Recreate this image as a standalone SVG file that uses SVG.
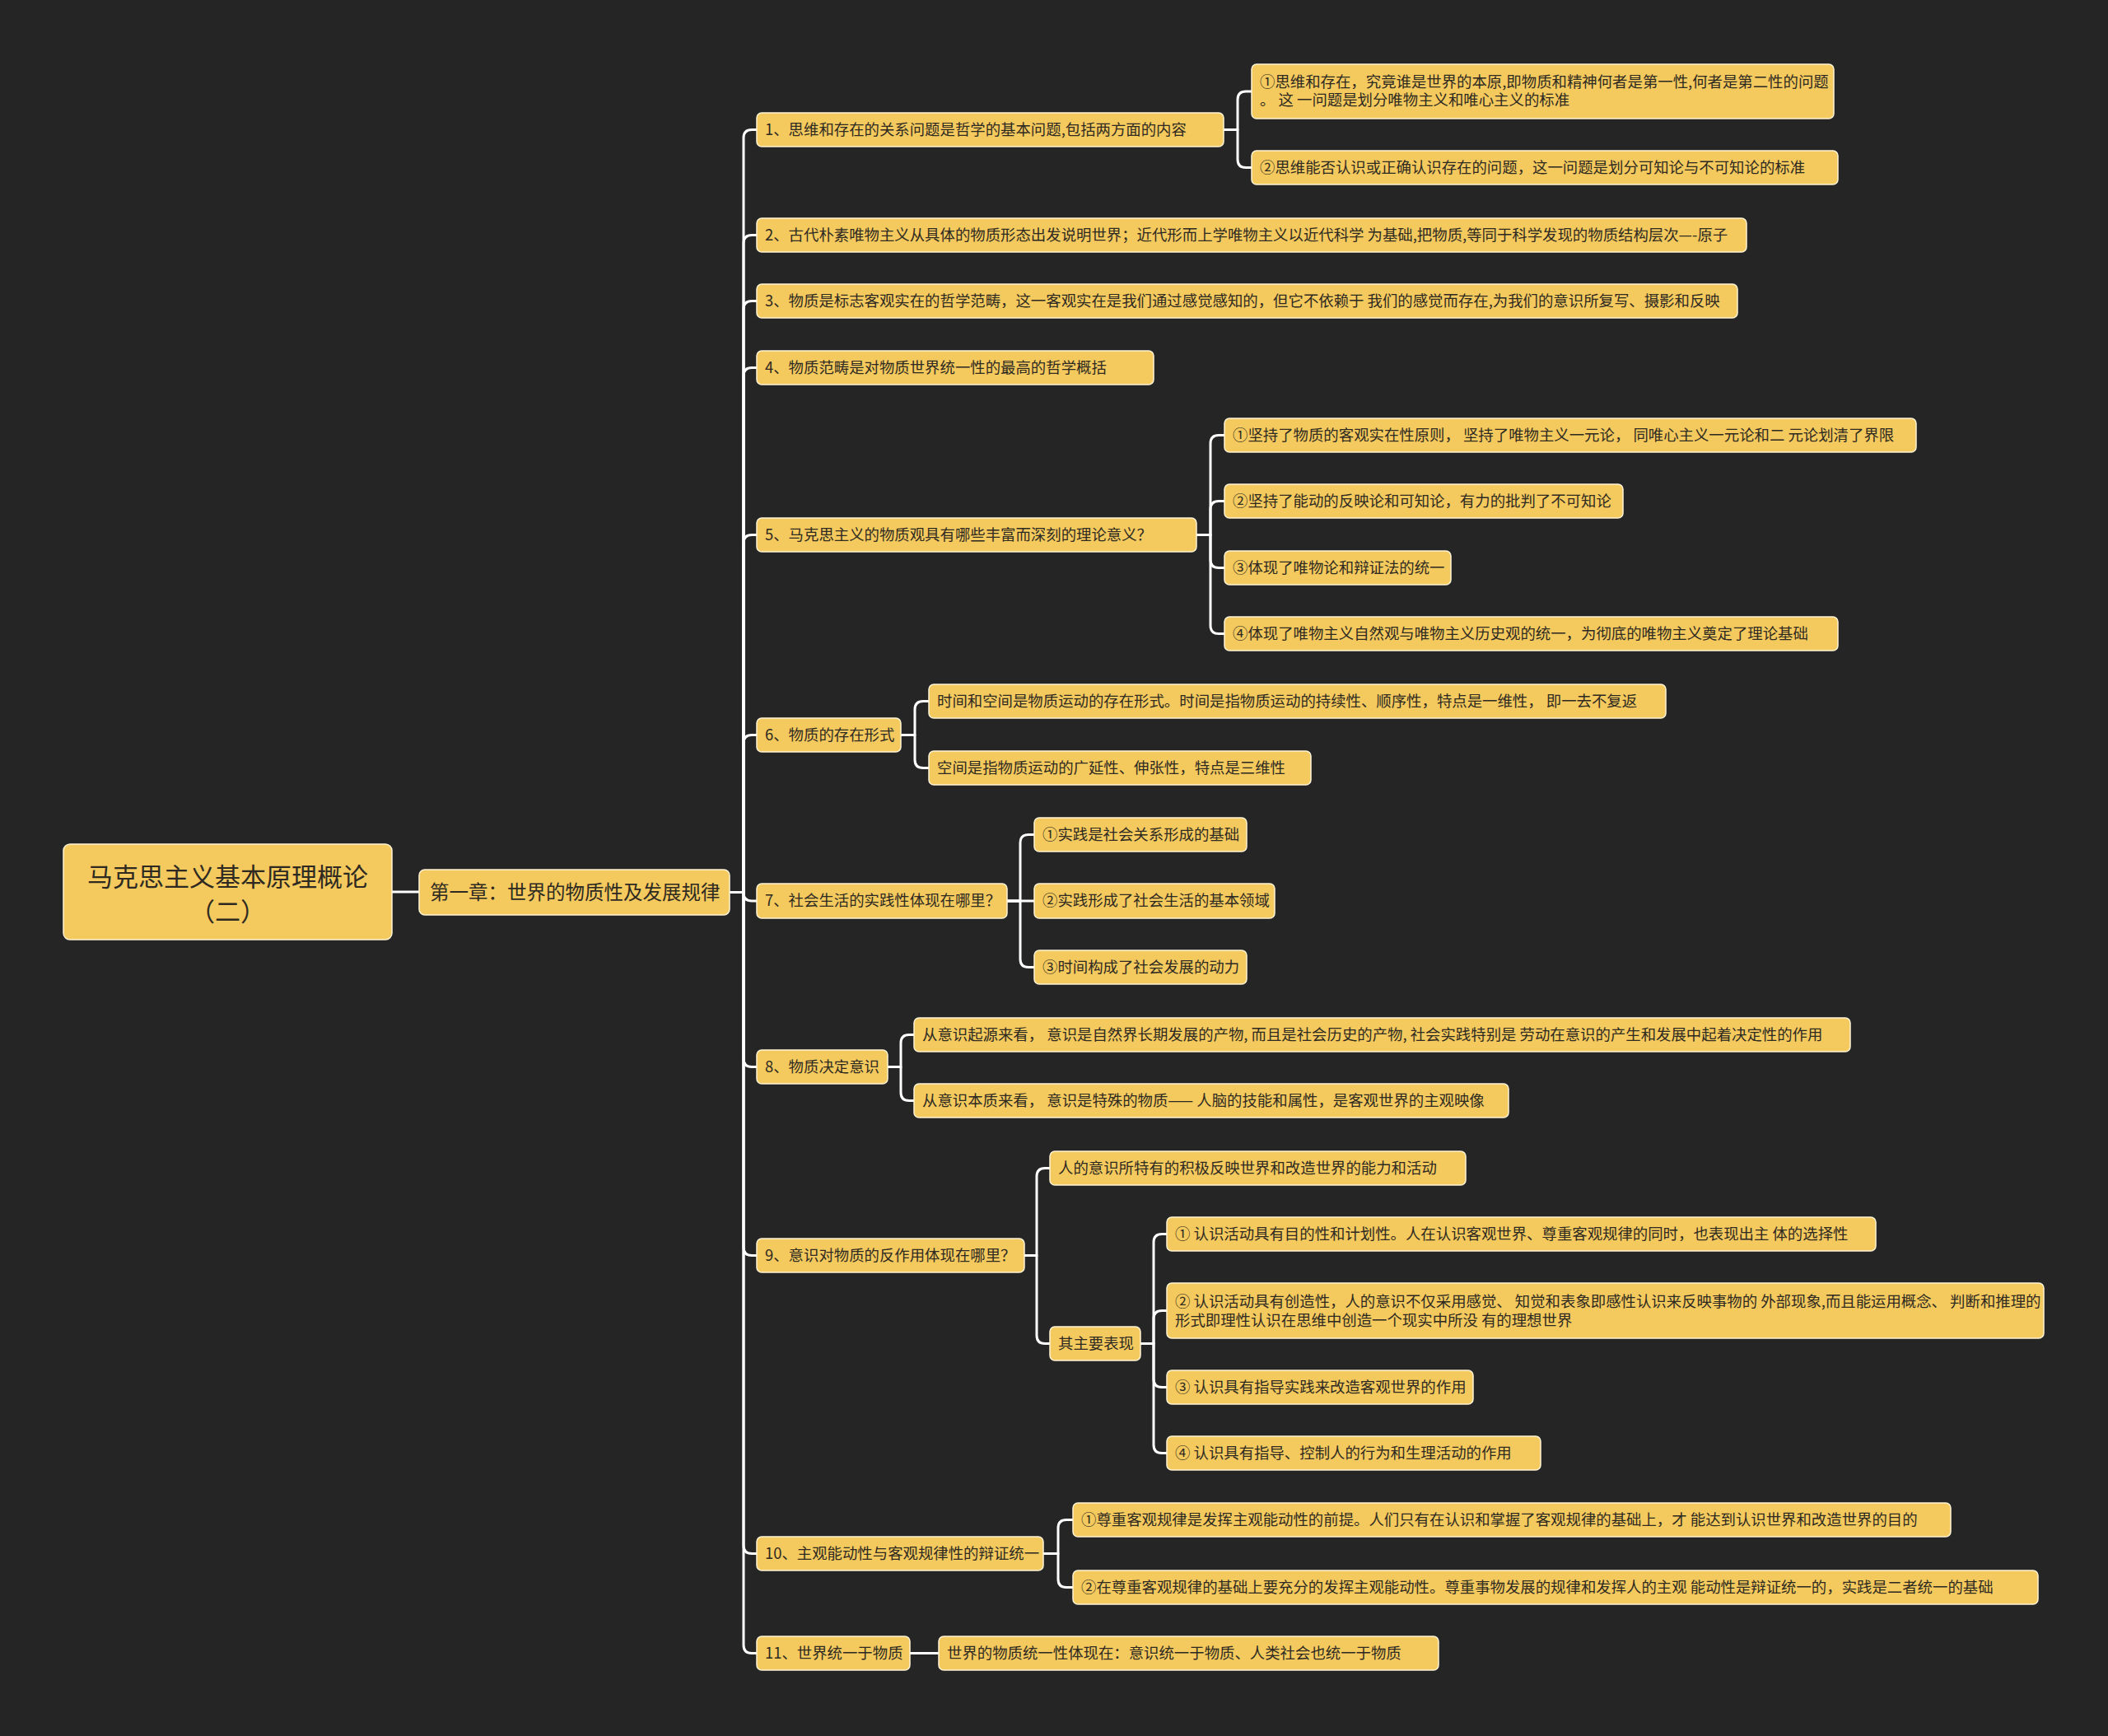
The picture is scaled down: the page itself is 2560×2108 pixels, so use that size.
<svg xmlns="http://www.w3.org/2000/svg" width="2560" height="2108" viewBox="0 0 2560 2108">
<style>
.node rect{fill:#F4C95D;stroke:#FFF4D6;stroke-width:1.5}
text{font-family:'Noto Sans CJK SC','Noto Sans',sans-serif;fill:#2E2A22}
.t{font-size:18.4px}
.conn path{fill:none;stroke:#FFFFFF;stroke-width:3;stroke-linecap:round;stroke-linejoin:round}
</style>
<rect width="2560" height="2108" fill="#252525"/>
<g id="connectors" class="conn">
<path d="M476 1083 H509"/>
<path d="M886 1083.5 H903 V167.5 Q903 157.5 913 157.5 H919"/>
<path d="M886 1083.5 H903 V295.5 Q903 285.5 913 285.5 H919"/>
<path d="M886 1083.5 H903 V375.5 Q903 365.5 913 365.5 H919"/>
<path d="M886 1083.5 H903 V456.5 Q903 446.5 913 446.5 H919"/>
<path d="M886 1083.5 H903 V659.5 Q903 649.5 913 649.5 H919"/>
<path d="M886 1083.5 H903 V902.5 Q903 892.5 913 892.5 H919"/>
<path d="M886 1083.5 H903 V1084 Q903 1094 913 1094 H919"/>
<path d="M886 1083.5 H903 V1285.5 Q903 1295.5 913 1295.5 H919"/>
<path d="M886 1083.5 H903 V1514.5 Q903 1524.5 913 1524.5 H919"/>
<path d="M886 1083.5 H903 V1876.5 Q903 1886.5 913 1886.5 H919"/>
<path d="M886 1083.5 H903 V1997.5 Q903 2007.5 913 2007.5 H919"/>
<path d="M1486 157.5 H1503 V121 Q1503 111 1513 111 H1520"/>
<path d="M1486 157.5 H1503 V193.5 Q1503 203.5 1513 203.5 H1520"/>
<path d="M1453 649.5 H1470 V538.5 Q1470 528.5 1480 528.5 H1487"/>
<path d="M1453 649.5 H1470 V618.5 Q1470 608.5 1480 608.5 H1487"/>
<path d="M1453 649.5 H1470 V679.5 Q1470 689.5 1480 689.5 H1487"/>
<path d="M1453 649.5 H1470 V759.5 Q1470 769.5 1480 769.5 H1487"/>
<path d="M1094 892.5 H1111 V861.5 Q1111 851.5 1121 851.5 H1128"/>
<path d="M1094 892.5 H1111 V922.5 Q1111 932.5 1121 932.5 H1128"/>
<path d="M1223 1094 H1239 V1023.5 Q1239 1013.5 1249 1013.5 H1256"/>
<path d="M1223 1094 H1256"/>
<path d="M1223 1094 H1239 V1164.5 Q1239 1174.5 1249 1174.5 H1256"/>
<path d="M1078 1295.5 H1094 V1266.5 Q1094 1256.5 1104 1256.5 H1110"/>
<path d="M1078 1295.5 H1094 V1326.5 Q1094 1336.5 1104 1336.5 H1110"/>
<path d="M1244 1524.5 H1259 V1428.5 Q1259 1418.5 1269 1418.5 H1275"/>
<path d="M1244 1524.5 H1259 V1621.5 Q1259 1631.5 1269 1631.5 H1275"/>
<path d="M1385 1631.5 H1401 V1508.5 Q1401 1498.5 1411 1498.5 H1417"/>
<path d="M1385 1631.5 H1401 V1601.5 Q1401 1591.5 1411 1591.5 H1417"/>
<path d="M1385 1631.5 H1401 V1674.5 Q1401 1684.5 1411 1684.5 H1417"/>
<path d="M1385 1631.5 H1401 V1754.5 Q1401 1764.5 1411 1764.5 H1417"/>
<path d="M1267 1886.5 H1285 V1855.5 Q1285 1845.5 1295 1845.5 H1303"/>
<path d="M1267 1886.5 H1285 V1917.5 Q1285 1927.5 1295 1927.5 H1303"/>
<path d="M1105 2007.5 H1140"/>
</g>
<g id="root" class="node"><rect x="77" y="1025" width="399" height="116" rx="8"/><text x="276.5" y="1076" font-size="31" text-anchor="middle">马克思主义基本原理概论</text><text x="276.5" y="1118" font-size="31" text-anchor="middle">（二）</text></g>
<g id="chapter" class="node"><rect x="509" y="1056" width="377" height="55" rx="7"/><text x="522" y="1091.5" font-size="23.5">第一章：世界的物质性及发展规律</text></g>
<g id="n1" class="node"><rect x="919" y="137" width="567" height="41" rx="6"/><text class="t" x="929" y="163.5">1、思维和存在的关系问题是哲学的基本问题,包括两方面的内容</text></g>
<g id="n1a" class="node"><rect x="1520" y="78" width="707" height="66" rx="6"/><text class="t" x="1530" y="106">①思维和存在，究竟谁是世界的本原,即物质和精神何者是第一性,何者是第二性的问题</text><text class="t" x="1530" y="128">。 这 一问题是划分唯物主义和唯心主义的标准</text></g>
<g id="n1b" class="node"><rect x="1520" y="183" width="712" height="41" rx="6"/><text class="t" x="1530" y="209.5">②思维能否认识或正确认识存在的问题，这一问题是划分可知论与不可知论的标准</text></g>
<g id="n2" class="node"><rect x="919" y="265" width="1202" height="41" rx="6"/><text class="t" x="929" y="291.5">2、古代朴素唯物主义从具体的物质形态出发说明世界；近代形而上学唯物主义以近代科学 为基础,把物质,等同于科学发现的物质结构层次—-原子</text></g>
<g id="n3" class="node"><rect x="919" y="345" width="1191" height="41" rx="6"/><text class="t" x="929" y="371.5">3、物质是标志客观实在的哲学范畴，这一客观实在是我们通过感觉感知的，但它不依赖于 我们的感觉而存在,为我们的意识所复写、摄影和反映</text></g>
<g id="n4" class="node"><rect x="919" y="426" width="482" height="41" rx="6"/><text class="t" x="929" y="452.5">4、物质范畴是对物质世界统一性的最高的哲学概括</text></g>
<g id="n5" class="node"><rect x="919" y="629" width="534" height="41" rx="6"/><text class="t" x="929" y="655.5">5、马克思主义的物质观具有哪些丰富而深刻的理论意义？</text></g>
<g id="n5a" class="node"><rect x="1487" y="508" width="840" height="41" rx="6"/><text class="t" x="1497" y="534.5">①坚持了物质的客观实在性原则， 坚持了唯物主义一元论， 同唯心主义一元论和二 元论划清了界限</text></g>
<g id="n5b" class="node"><rect x="1487" y="588" width="484" height="41" rx="6"/><text class="t" x="1497" y="614.5">②坚持了能动的反映论和可知论，有力的批判了不可知论</text></g>
<g id="n5c" class="node"><rect x="1487" y="669" width="275" height="41" rx="6"/><text class="t" x="1497" y="695.5">③体现了唯物论和辩证法的统一</text></g>
<g id="n5d" class="node"><rect x="1487" y="749" width="745" height="41" rx="6"/><text class="t" x="1497" y="775.5">④体现了唯物主义自然观与唯物主义历史观的统一，为彻底的唯物主义奠定了理论基础</text></g>
<g id="n6" class="node"><rect x="919" y="872" width="175" height="41" rx="6"/><text class="t" x="929" y="898.5">6、物质的存在形式</text></g>
<g id="n6a" class="node"><rect x="1128" y="831" width="895" height="41" rx="6"/><text class="t" x="1138" y="857.5">时间和空间是物质运动的存在形式。时间是指物质运动的持续性、顺序性，特点是一维性， 即一去不复返</text></g>
<g id="n6b" class="node"><rect x="1128" y="912" width="464" height="41" rx="6"/><text class="t" x="1138" y="938.5">空间是指物质运动的广延性、伸张性，特点是三维性</text></g>
<g id="n7" class="node"><rect x="919" y="1073" width="304" height="42" rx="6"/><text class="t" x="929" y="1100">7、社会生活的实践性体现在哪里？</text></g>
<g id="n7a" class="node"><rect x="1256" y="993" width="258" height="41" rx="6"/><text class="t" x="1266" y="1019.5">①实践是社会关系形成的基础</text></g>
<g id="n7b" class="node"><rect x="1256" y="1073" width="292" height="42" rx="6"/><text class="t" x="1266" y="1100">②实践形成了社会生活的基本领域</text></g>
<g id="n7c" class="node"><rect x="1256" y="1154" width="258" height="41" rx="6"/><text class="t" x="1266" y="1180.5">③时间构成了社会发展的动力</text></g>
<g id="n8" class="node"><rect x="919" y="1275" width="159" height="41" rx="6"/><text class="t" x="929" y="1301.5">8、物质决定意识</text></g>
<g id="n8a" class="node"><rect x="1110" y="1236" width="1137" height="41" rx="6"/><text class="t" x="1120" y="1262.5">从意识起源来看， 意识是自然界长期发展的产物, 而且是社会历史的产物, 社会实践特别是 劳动在意识的产生和发展中起着决定性的作用</text></g>
<g id="n8b" class="node"><rect x="1110" y="1316" width="722" height="41" rx="6"/><text class="t" x="1120" y="1342.5">从意识本质来看， 意识是特殊的物质—— 人脑的技能和属性，是客观世界的主观映像</text></g>
<g id="n9" class="node"><rect x="919" y="1504" width="325" height="41" rx="6"/><text class="t" x="929" y="1530.5">9、意识对物质的反作用体现在哪里？</text></g>
<g id="n9a" class="node"><rect x="1275" y="1398" width="505" height="41" rx="6"/><text class="t" x="1285" y="1424.5">人的意识所特有的积极反映世界和改造世界的能力和活动</text></g>
<g id="n9b" class="node"><rect x="1275" y="1611" width="110" height="41" rx="6"/><text class="t" x="1285" y="1637.5">其主要表现</text></g>
<g id="n9b1" class="node"><rect x="1417" y="1478" width="861" height="41" rx="6"/><text class="t" x="1427" y="1504.5">① 认识活动具有目的性和计划性。人在认识客观世界、尊重客观规律的同时，也表现出主 体的选择性</text></g>
<g id="n9b2" class="node"><rect x="1417" y="1558" width="1065" height="67" rx="6"/><text class="t" x="1427" y="1587">② 认识活动具有创造性，人的意识不仅采用感觉、 知觉和表象即感性认识来反映事物的 外部现象,而且能运用概念、 判断和推理的</text><text class="t" x="1427" y="1610">形式即理性认识在思维中创造一个现实中所没 有的理想世界</text></g>
<g id="n9b3" class="node"><rect x="1417" y="1664" width="372" height="41" rx="6"/><text class="t" x="1427" y="1690.5">③ 认识具有指导实践来改造客观世界的作用</text></g>
<g id="n9b4" class="node"><rect x="1417" y="1744" width="454" height="41" rx="6"/><text class="t" x="1427" y="1770.5">④ 认识具有指导、控制人的行为和生理活动的作用</text></g>
<g id="n10" class="node"><rect x="919" y="1866" width="348" height="41" rx="6"/><text class="t" x="929" y="1892.5">10、主观能动性与客观规律性的辩证统一</text></g>
<g id="n10a" class="node"><rect x="1303" y="1825" width="1066" height="41" rx="6"/><text class="t" x="1313" y="1851.5">①尊重客观规律是发挥主观能动性的前提。人们只有在认识和掌握了客观规律的基础上，才 能达到认识世界和改造世界的目的</text></g>
<g id="n10b" class="node"><rect x="1303" y="1907" width="1172" height="41" rx="6"/><text class="t" x="1313" y="1933.5">②在尊重客观规律的基础上要充分的发挥主观能动性。尊重事物发展的规律和发挥人的主观 能动性是辩证统一的，实践是二者统一的基础</text></g>
<g id="n11" class="node"><rect x="919" y="1987" width="186" height="41" rx="6"/><text class="t" x="929" y="2013.5">11、世界统一于物质</text></g>
<g id="n11a" class="node"><rect x="1140" y="1987" width="607" height="41" rx="6"/><text class="t" x="1150" y="2013.5">世界的物质统一性体现在：意识统一于物质、人类社会也统一于物质</text></g>
</svg>
